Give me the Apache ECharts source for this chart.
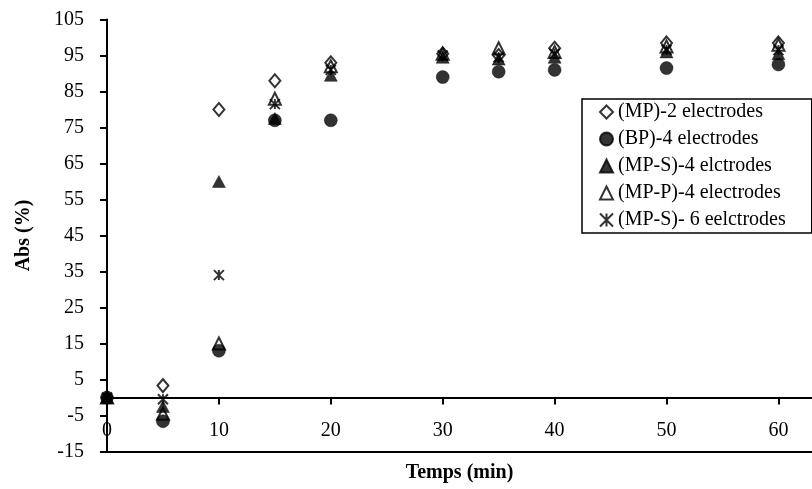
<!DOCTYPE html>
<html>
<head>
<meta charset="utf-8">
<script src="https://cdn.jsdelivr.net/npm/echarts@6/dist/echarts.min.js"></script>
<style>html,body{margin:0;padding:0;background:#fff}#c{width:812px;height:489px}</style>
</head>
<body>
<div id="c"></div>
<script>
var times = [0, 5, 10, 15, 20, 30, 35, 40, 50, 60];
var seriesNames = ['(MP)-2 electrodes', '(BP)-4 electrodes', '(MP-S)-4 elctrodes', '(MP-P)-4 electrodes', '(MP-S)- 6 eelctrodes'];
var mp2 = [0, 3.3, 80, 88, 93, 95.5, 95, 97, 98.5, 98.5];
var bp4 = [0, -6.6, 13, 77, 77, 89, 90.5, 91, 91.5, 92.5];
var mps4 = [0, -2.5, 60, 77.5, 89.5, 94.5, 94, 94.5, 96, 95.5];
var mpp4 = [0, -4.5, 15, 83, 92, 95.5, 97, 96, 97.5, 98];
var mps6 = [0, -0.5, 34, 81.5, 91, 95, 94.5, 95.5, 96.5, 96.5];
var yMin = -15, yMax = 105, yStep = 10;
var xMin = 0, xMax = 63, xStep = 10;

function pairs(v) { return times.map(function (t, i) { return [t, v[i]]; }); }

var FONT = '"Liberation Serif","Times New Roman",serif';
var chart = echarts.init(document.getElementById('c'), null, {renderer: 'canvas'});
var starPath = 'path://M0,0L10,10M10,0L0,10M5,0L5,10';

function mk(name, data, symbol, size, filled) {
  return {
    name: name, type: 'scatter', data: pairs(data), symbol: symbol, symbolSize: size,
    itemStyle: filled ? {color: '#000', borderColor: '#000', borderWidth: 0.5}
                      : {color: 'rgba(255,255,255,0)', borderColor: '#000', borderWidth: 2},
    emphasis: {disabled: true}, z: 3
  };
}

var series = [
  mk(seriesNames[0], mp2, 'diamond', [11, 13], false),
  mk(seriesNames[1], bp4, 'circle', 13, true),
  mk(seriesNames[2], mps4, 'triangle', [13, 12], true),
  mk(seriesNames[3], mpp4, 'triangle', [12, 12], false),
  mk(seriesNames[4], mps6, starPath, [10, 10], false)
];
// bottom frame line of the plot area at the axis minimum
series[0].markLine = {
  silent: true, symbol: ['none', 'none'], label: {show: false},
  lineStyle: {color: '#000', width: 2, type: 'solid'},
  data: [{yAxis: yMin}], animation: false
};

chart.setOption({
  animation: false,
  backgroundColor: '#fff',
  grid: {left: 107, right: 0, top: 19.5, bottom: 37.5, containLabel: false, outerBoundsMode: 'none'},
  legend: {
    orient: 'vertical', left: 582, top: 99,
    data: seriesNames,
    borderColor: '#000', borderWidth: 1.5, backgroundColor: '#fff',
    padding: [3, 26, 3, 17], itemGap: 7, itemWidth: 13, itemHeight: 13,
    textStyle: {fontFamily: FONT, fontSize: 20, color: '#000'}
  },
  xAxis: {
    type: 'value', min: xMin, max: xMax, interval: xStep,
    axisLine: {onZero: true, lineStyle: {color: '#000', width: 2}},
    axisTick: {show: true, inside: false, length: 7, lineStyle: {color: '#000', width: 2}},
    axisLabel: {fontFamily: FONT, fontSize: 20, color: '#000', margin: -31, showMaxLabel: false},
    splitLine: {show: false},
    name: 'Temps (min)', nameLocation: 'middle', nameGap: 11,
    nameTextStyle: {fontFamily: FONT, fontSize: 20, fontWeight: 'bold', color: '#000'}
  },
  yAxis: {
    type: 'value', min: yMin, max: yMax, interval: yStep,
    axisLine: {show: true, onZero: false, lineStyle: {color: '#000', width: 2}},
    axisTick: {show: true, length: 7, lineStyle: {color: '#000', width: 2}},
    axisLabel: {fontFamily: FONT, fontSize: 20, color: '#000', margin: 23},
    splitLine: {show: false},
    name: 'Abs (%)', nameLocation: 'middle', nameGap: 73, nameRotate: 90,
    nameTextStyle: {fontFamily: FONT, fontSize: 20, fontWeight: 'bold', color: '#000'}
  },
  series: series
});
</script>
</body>
</html>
